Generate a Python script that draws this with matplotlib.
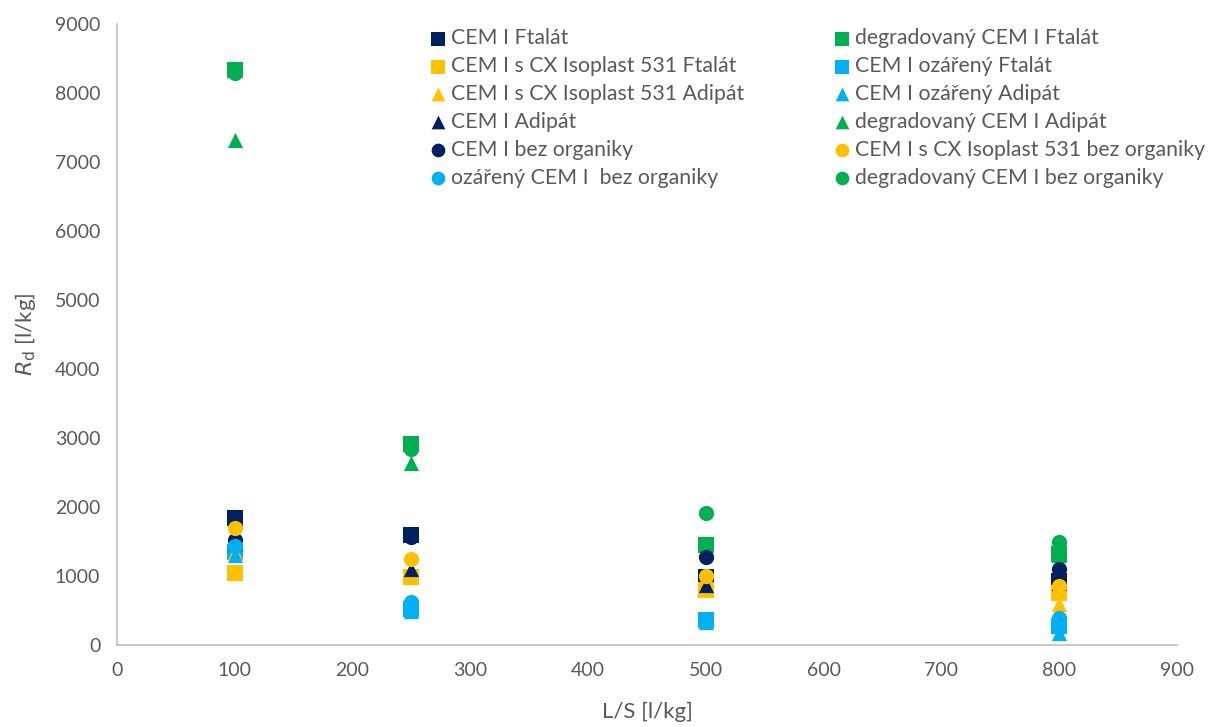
import matplotlib.pyplot as plt

plt.rcParams['font.family'] = ['Lato', 'DejaVu Sans']

navy = "#002060"
green = "#00B050"
yellow = "#FFC000"
blue = "#00B0F0"

ls = [100, 250, 500, 800]

# Rd values [l/kg] for each series at L/S = 100, 250, 500, 800
cem_ftalat = [1840, 1600, 980, 930]
deg_ftalat = [8330, 2920, 1450, 1320]
cx_ftalat = [1050, 980, 800, 760]
oz_ftalat = [1350, 520, 360, 280]
cx_adipat = [1350, 1000, 820, 600]
oz_adipat = [1300, 500, 340, 170]
cem_adipat = [1480, 1100, 870, 900]
deg_adipat = [7320, 2640, 1400, 1300]
cem_bez = [1520, 1560, 1280, 1100]
cx_bez = [1690, 1250, 1000, 860]
oz_bez = [1440, 620, 370, 390]
deg_bez = [8290, 2840, 1920, 1490]

series = [
    ("CEM I Ftalát", cem_ftalat, navy, "s"),
    ("degradovaný CEM I Ftalát", deg_ftalat, green, "s"),
    ("CEM I s CX Isoplast 531 Ftalát", cx_ftalat, yellow, "s"),
    ("CEM I ozářený Ftalát", oz_ftalat, blue, "s"),
    ("CEM I s CX Isoplast 531 Adipát", cx_adipat, yellow, "^"),
    ("CEM I ozářený Adipát", oz_adipat, blue, "^"),
    ("CEM I Adipát", cem_adipat, navy, "^"),
    ("degradovaný CEM I Adipát", deg_adipat, green, "^"),
    ("CEM I bez organiky", cem_bez, navy, "o"),
    ("CEM I s CX Isoplast 531 bez organiky", cx_bez, yellow, "o"),
    ("ozářený CEM I  bez organiky", oz_bez, blue, "o"),
    ("degradovaný CEM I bez organiky", deg_bez, green, "o"),
]

fig = plt.figure(figsize=(12.11, 7.27), dpi=100)
ax = fig.add_axes([117 / 1211, 1 - 645 / 727, 1060 / 1211, 621 / 727])

handles = []
for name, vals, col, mk in series:
    h = ax.scatter(ls, vals, s=120, marker=mk, color=col, label=name, linewidths=0, zorder=3)
    handles.append(h)

ax.set_xlim(0, 900)
ax.set_ylim(0, 9000)
ax.set_xticks(range(0, 901, 100))
ax.set_yticks(range(0, 9001, 1000))
ax.tick_params(length=0, labelsize=14, colors="#595959", pad=12)
for side in ["top", "right"]:
    ax.spines[side].set_visible(False)
for side in ["left", "bottom"]:
    ax.spines[side].set_color("#BFBFBF")
    ax.spines[side].set_linewidth(1.2)

ax.set_xlabel("L/S [l/kg]", fontsize=16, color="#595959", labelpad=17)
ax.set_ylabel(r"$R_\mathrm{d}$ [l/kg]", fontsize=16, color="#595959", labelpad=12)

# legend reads row by row, two columns
order = [0, 2, 4, 6, 8, 10, 1, 3, 5, 7, 9, 11]
leg = ax.legend([handles[i] for i in order], [series[i][0] for i in order],
                loc="upper left", bbox_to_anchor=(0.276, 1.024), ncol=2, frameon=False,
                fontsize=15.3, handletextpad=0.15, columnspacing=4.15, labelspacing=0.37,
                handlelength=0.9, markerscale=0.9)
for t in leg.get_texts():
    t.set_color("#595959")

fig.savefig("out.png", dpi=100)
